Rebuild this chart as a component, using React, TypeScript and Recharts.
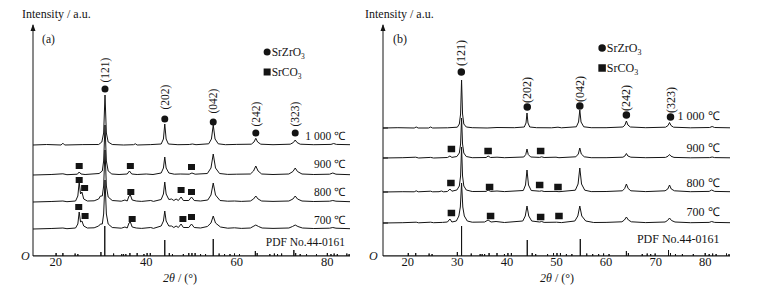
import { ComposedChart, Line, Scatter, XAxis, YAxis, ReferenceDot, ReferenceLine } from "recharts";

type Pt = [number, number];

// XRD patterns: [2θ (°), intensity (a.u. above the pattern's own baseline)]
const a1000: Pt[] = [[15,0],[18,0.5],[21.2,0],[21.6,1.8],[22,0],[26,0.4],[29.5,0.5],[30.2,3],[30.6,12],[30.9,50],[31.2,12],[31.6,3],[32.5,0.5],[35,0],[37.2,0.3],[37.6,1.2],[38,0],[41,0.4],[43.3,1],[43.8,6],[44.1,21],[44.4,6],[44.9,1],[47,0.3],[49.5,0.5],[50.2,1],[51,0.3],[53.8,1.2],[54.4,6],[54.8,20],[55.2,6],[55.9,1.2],[57.5,0.3],[60,0.6],[63.2,0.8],[63.8,3],[64.2,6.7],[64.6,3],[65.3,0.8],[68,0.3],[71.8,0.8],[72.5,2.5],[72.9,5],[73.3,2.5],[74,0.8],[77,0.3],[80.8,0.6],[81.4,1.5],[82,0.6],[85,0.3]];
const a900: Pt[] = [[15,0],[19,0.5],[21.6,1.2],[22.5,0.3],[24.8,0.8],[25.2,3],[25.6,1],[26.5,0.5],[29.6,1.5],[30.3,4],[30.6,14],[30.9,50],[31.2,14],[31.6,4],[32.4,1],[34,0.5],[35.8,1],[36.3,4],[36.8,1],[38,0.5],[40,1],[41.5,0.5],[43.3,2],[43.8,7],[44.1,18],[44.4,7],[45,2],[46.2,0.8],[47.5,1],[49.5,0.8],[50.1,2],[50.8,0.8],[53.5,1.5],[54.3,7],[54.8,21],[55.3,7],[56.2,1.5],[58,0.6],[60,0.8],[63,1],[63.7,4],[64.2,9],[64.7,4],[65.5,1],[68,0.5],[71.5,1],[72.4,3.5],[72.9,7],[73.4,3.5],[74.4,1],[77,0.5],[80.5,0.8],[81.2,2],[81.9,0.8],[85,0.3]];
const a800: Pt[] = [[15,0],[19,0.5],[21.6,1],[22.5,0.3],[24.4,1],[24.9,6],[25.2,20],[25.5,8],[25.8,10],[26.2,3],[27,1],[28.5,1.2],[29.5,3],[29.9,6],[30.3,6],[30.6,16],[30.9,52],[31.2,16],[31.6,5],[32.5,1.5],[34.5,0.8],[35.3,2],[35.8,1],[36.2,6],[36.5,7],[36.9,2],[37.8,1],[39,0.6],[41,1.5],[41.6,0.6],[43.3,2.5],[43.8,8],[44.1,20],[44.4,8],[45,2.5],[45.6,3],[46.1,1.5],[46.6,3],[47.1,1.5],[47.7,5],[48.2,1.5],[49.4,1.5],[50,5],[50.6,1.5],[52,1],[53.6,2],[54.3,7],[54.8,19],[55.3,7],[56.3,1.5],[58,0.8],[59.5,1],[61,0.6],[63,1],[63.7,3],[64.2,6],[64.7,3],[65.5,1],[68,0.6],[71.5,1],[72.4,3],[72.9,6],[73.4,3],[74.4,1],[77,0.5],[80.5,0.8],[81.2,1.5],[81.9,0.8],[85,0.3]];
const a700: Pt[] = [[15,0],[19,0.5],[21.6,1],[22.5,0.3],[24.4,1],[24.9,5],[25.2,17],[25.5,7],[25.8,8],[26.2,3],[27,1],[28.5,1.2],[29.5,3],[29.9,5],[30.3,5],[30.6,15],[30.9,49],[31.2,15],[31.6,5],[32.5,1.5],[34.5,0.8],[35.3,2],[35.8,1],[36.2,6],[36.5,7],[36.9,2],[37.8,1],[39,0.6],[41,1.5],[41.6,0.6],[43.3,3],[43.8,8],[44.1,18],[44.4,8],[45,3],[45.6,3],[46.1,1.5],[46.6,3],[47.1,1.5],[47.7,5],[48.2,1.5],[49.4,1.5],[50,5],[50.6,1.5],[52,1],[53.5,2.5],[54.3,6],[54.8,13],[55.3,6],[56.4,2],[58,0.8],[59.5,1.2],[61,0.6],[63,1],[63.6,2.5],[64.2,4],[64.8,2.5],[65.6,1],[68,0.6],[71.5,1],[72.3,2.5],[72.9,4],[73.5,2.5],[74.5,1],[77,0.5],[80.5,0.8],[81.2,1.5],[81.9,0.8],[85,0.3]];

const b1000: Pt[] = [[15,0],[18,0.3],[21.3,0],[21.7,1],[22.1,0],[24.2,0],[24.6,1],[25,0],[28,0.2],[30,0.8],[30.4,4],[30.65,14],[30.85,48],[31.05,14],[31.3,4],[31.8,1],[33,0.3],[36,0],[38,0.5],[41.5,0.3],[43.5,1],[43.85,5],[44.05,15],[44.25,5],[44.6,1],[46,0.3],[49,0.2],[50.3,0.8],[51,0.2],[54,1.2],[54.45,6],[54.7,18],[54.95,6],[55.5,1.2],[57,0.3],[60,0.3],[63.4,1],[63.8,3],[64.1,7],[64.4,3],[64.9,1],[68,0.3],[72,0.8],[72.5,2.5],[72.8,5.5],[73.1,2.5],[73.6,0.8],[77,0.2],[80.9,0.5],[81.4,1.5],[81.9,0.5],[85,0.2]];
const b900: Pt[] = [[15,0],[19,0.3],[21.6,0.8],[22.2,0],[24.6,0.6],[25.2,0],[28,0.5],[28.5,2],[28.9,0.6],[29.9,1.5],[30.4,5],[30.65,14],[30.85,40],[31.05,14],[31.3,5],[31.8,1.5],[33,0.3],[35.8,0.5],[36.2,2],[36.7,0.5],[38,0.8],[39.5,0.3],[43.4,1],[43.8,3.5],[44.05,9],[44.3,3.5],[44.8,1],[46.6,0.6],[47,1.2],[47.5,0.5],[49.9,0.8],[50.5,0.3],[53.9,1.2],[54.4,4],[54.7,10],[55,4],[55.6,1.2],[57,0.3],[60,0.3],[63.4,0.8],[63.8,2],[64.1,4.5],[64.4,2],[65,0.8],[68,0.3],[72,0.6],[72.5,1.8],[72.8,3.5],[73.1,1.8],[73.7,0.6],[77,0.2],[80.9,0.4],[81.4,1],[81.9,0.4],[85,0.2]];
const b800: Pt[] = [[15,0],[19,0.3],[21.3,0.2],[21.7,1.2],[22.1,0.2],[24.6,0.8],[25,0.2],[26.3,0.3],[26.8,1],[27.2,0.2],[28,0.5],[28.5,3],[28.9,0.8],[29.9,2],[30.4,6],[30.65,16],[30.85,45],[31.05,16],[31.3,6],[31.8,2],[33,0.5],[35.8,0.6],[36.2,2],[36.7,0.6],[38,1],[39.5,0.4],[43.3,1.5],[43.75,7],[44.05,22],[44.35,7],[44.9,1.5],[46.6,0.8],[47,1.2],[47.5,0.5],[49.9,0.6],[50.5,0.3],[53.8,1.8],[54.35,8],[54.7,24],[55.05,8],[55.7,1.8],[57,0.4],[60,0.5],[63.3,1.2],[63.75,3.5],[64.1,8],[64.45,3.5],[65,1.2],[68,0.4],[71.9,1.2],[72.45,3],[72.8,7],[73.15,3],[73.8,1.2],[77,0.3],[80.8,0.6],[81.3,2],[81.9,0.6],[85,0.3]];
const b700: Pt[] = [[15,0],[19,0.3],[21.7,0.8],[22.2,0.2],[24.6,0.8],[25.2,0.3],[27,0.6],[28,1],[28.5,4],[28.9,1],[29.8,2],[30.3,7],[30.6,16],[30.85,40],[31.1,16],[31.4,7],[32,2],[33,0.8],[35.5,1],[36.2,3],[36.8,1],[37.8,1.5],[39.5,0.5],[43.2,2],[43.7,7],[44.05,17],[44.4,7],[45,2],[46.6,1],[47,1.5],[47.5,0.6],[50,0.8],[51,0.4],[53.7,2],[54.3,7],[54.7,17],[55.1,7],[55.9,2],[57.5,0.5],[60,0.6],[63.2,1.2],[63.7,3],[64.1,6],[64.5,3],[65.1,1.2],[68,0.4],[71.9,1],[72.4,2.5],[72.8,5],[73.2,2.5],[73.9,1],[77,0.3],[80.8,0.6],[81.3,1.5],[81.9,0.6],[85,0.3]];

// PDF No.44-0161 reference lines: [2θ, height]
const pdfSticks: Pt[] = [[20.1,3],[21.6,3],[24.3,2.5],[24.9,2],[30.0,4],[30.85,30],[32.8,2.5],[34.6,2],[35.0,2],[35.5,2],[36.4,3],[38.0,3],[39.5,2],[40.2,3],[40.9,3],[44.1,16],[45.1,3],[45.8,2],[48.2,2],[49.4,3],[50.1,3],[50.8,3],[52.0,2],[53.1,2],[54.8,17],[56.1,2.5],[57.3,2],[58.5,2],[59.5,2.5],[60.6,2],[64.1,5],[64.5,3],[67.3,2],[68.3,2.5],[69.0,2],[69.9,2.5],[72.6,6],[73.0,3],[74.0,2],[75.4,2],[77.6,2],[80.0,3],[80.8,2],[81.5,2.5],[82.2,2],[84.3,2.5],[84.8,2]];

const tempLabels = ["1 000 ℃", "900 ℃", "800 ℃", "700 ℃"];
const hklLabels = ["(121)", "(202)", "(042)", "(242)", "(323)"];
const offsetsA = [111, 81, 54, 27];
const offsetsB = [128, 98, 64, 33];

// SrZrO3 peak markers (1 000 ℃) and SrCO3 markers per temperature
const zrA: Pt[] = [[30.9,167],[44.1,137],[54.8,134],[64.2,123],[72.9,123]];
const hklYA = [186, 159, 155, 142, 142];
const co3A: Pt[] = [[25.2,90],[36.5,90],[50.0,89],[25.2,76],[26.4,68],[36.6,64],[47.7,66],[50.0,64],[25.1,49],[26.5,40],[36.9,37],[48.1,37],[50.0,39]];
const zrB: Pt[] = [[30.8,184],[44.1,149],[54.7,150],[64.1,141],[73.0,139]];
const hklYB = [203, 166, 167, 158, 156];
const co3B: Pt[] = [[28.8,107],[36.2,105],[46.8,105],[28.7,73],[36.5,69],[46.6,71],[50.3,69],[28.8,43],[36.7,40],[46.8,39],[50.5,40]];

const FONT = '"Liberation Serif", "Times New Roman", serif';
const INK = "#141414";

type PanelProps = {
  tag: string; left: number; width: number; ml: number; mr: number;
  traces: Pt[][]; offsets: number[]; xTicks: number[]; yTicks?: number[];
  zr: Pt[]; hklY: number[]; co3: Pt[]; tempX: number; tempY: number[]; pdfY: number;
  legend: Pt; fs: number; mk: number;
};

function Panel(p: PanelProps) {
  const lines = p.traces.map((t, i) => t.map(([x, y]) => ({ x, y: y + p.offsets[i] })));
  const pdf = [{ x: 15, y: 0 }, ...pdfSticks.flatMap(([x, h]) => [{ x, y: 0 }, { x, y: h }, { x, y: 0 }]), { x: 85, y: 0 }];
  const hkl = p.zr.map(([x], i) => ({ x, y: p.hklY[i], text: hklLabels[i] }));
  const temps = tempLabels.map((text, i) => ({ x: p.tempX, y: p.tempY[i], text }));
  const m = p.mk;
  const circle = (s: any) => <circle cx={s.cx} cy={s.cy} r={m / 2} fill={INK} />;
  const square = (s: any) => <rect x={s.cx - m / 2} y={s.cy - m / 2 + 0.5} width={m} height={m - 1} fill={INK} />;
  const txt = (anchor: string) => (s: any) => (
    <text x={s.cx} y={s.cy} textAnchor={anchor} dominantBaseline="central" fontSize={p.fs} fontFamily={FONT} fill={INK}>{s.payload.text}</text>
  );
  const vtxt = (s: any) => (
    <text x={s.cx} y={s.cy} transform={`rotate(-90 ${s.cx} ${s.cy})`} textAnchor="middle" dominantBaseline="central" fontSize={p.fs} fontFamily={FONT} fill={INK}>{s.payload.text}</text>
  );
  const legendItem = (label: string, isCircle: boolean) => (s: any) => (
    <g>
      {isCircle ? <circle cx={s.cx} cy={s.cy} r={m / 2} fill={INK} /> : <rect x={s.cx - m / 2} y={s.cy - m / 2} width={m} height={m} fill={INK} />}
      <text x={s.cx + m / 2 + 1} y={s.cy} dominantBaseline="central" fontSize={p.fs} fontFamily={FONT} fill={INK}>
        {label}<tspan fontSize={p.fs - 4} dy={4}>3</tspan>
      </text>
    </g>
  );
  const arrow = (s: any) => <polygon points={`${s.cx},${s.cy - 1} ${s.cx - 2.5},${s.cy + 6} ${s.cx + 2.5},${s.cy + 6}`} fill={INK} />;
  const yTick = (s: any) => <line x1={s.cx} x2={s.cx + 5} y1={s.cy} y2={s.cy} stroke={INK} strokeWidth={1} />;

  return (
    <div style={{ position: "absolute", left: p.left, top: 0 }}>
      <ComposedChart width={p.width} height={291} margin={{ top: 25, right: p.mr, bottom: 5, left: p.ml }}>
        <XAxis type="number" dataKey="x" domain={[15, 85]} ticks={p.xTicks} allowDataOverflow height={30}
          tickLine={false} tickSize={0} tickMargin={1} axisLine={{ stroke: INK }}
          tick={{ fill: INK, fontSize: 12.5, fontFamily: FONT }} />
        <YAxis type="number" domain={[0, 231]} allowDataOverflow width={0} hide />
        <ReferenceLine x={15} stroke={INK} strokeWidth={1} />
        {(p.yTicks ?? []).map((v) => (
          <ReferenceDot key={v} x={15} y={v} r={0} shape={yTick} />
        ))}
        {lines.map((d, i) => (
          <Line key={i} data={d} dataKey="y" type="linear" stroke={INK} strokeWidth={1} dot={false} isAnimationActive={false} />
        ))}
        <Line data={pdf} dataKey="y" type="linear" stroke={INK} strokeWidth={1} dot={false} isAnimationActive={false} />
        <Scatter data={p.zr.map(([x, y]) => ({ x, y }))} dataKey="y" shape={circle} isAnimationActive={false} />
        <Scatter data={p.co3.map(([x, y]) => ({ x, y }))} dataKey="y" shape={square} isAnimationActive={false} />
        <Scatter data={hkl} dataKey="y" shape={vtxt} isAnimationActive={false} />
        <Scatter data={temps} dataKey="y" shape={txt("end")} isAnimationActive={false} />
        <Scatter data={[{ x: p.tempX, y: p.pdfY, text: "PDF No.44-0161" }]} dataKey="y" shape={txt("end")} isAnimationActive={false} />
        <Scatter data={[{ x: 17, y: 217, text: p.tag }]} dataKey="y" shape={txt("start")} isAnimationActive={false} />
        <Scatter data={[{ x: p.legend[0], y: p.legend[1] }]} dataKey="y" shape={legendItem("SrZrO", true)} isAnimationActive={false} />
        <Scatter data={[{ x: p.legend[0], y: p.legend[1] - 20 }]} dataKey="y" shape={legendItem("SrCO", false)} isAnimationActive={false} />
        <ReferenceDot x={15} y={231} r={0} shape={arrow} />
      </ComposedChart>
    </div>
  );
}

const note: any = { position: "absolute", fontFamily: FONT, fontSize: 12, color: INK, lineHeight: "14px", whiteSpace: "nowrap" };

export default function App() {
  return (
    <div style={{ position: "absolute", left: 0, top: 0, width: 775, height: 291, background: "#fff", overflow: "hidden" }}>
      <Panel tag="(a)" left={0} width={360} ml={33} mr={10} traces={[a1000, a900, a800, a700]}
        offsets={offsetsA} xTicks={[20, 40, 60, 80]} zr={zrA} hklY={hklYA} co3={co3A}
        tempX={83.9} tempY={[120, 92, 64, 36]} pdfY={14} legend={[66.7, 204]} fs={11.5} mk={7} />
      <Panel tag="(b)" left={350} width={425} ml={33} mr={45} traces={[b1000, b900, b800, b700]}
        offsets={offsetsB} xTicks={[20, 30, 40, 50, 60, 70, 80]} yTicks={offsetsB} zr={zrB} hklY={hklYB} co3={co3B}
        tempX={82.9} tempY={[140, 108, 73, 44]} pdfY={17} legend={[59.2, 208]} fs={12} mk={7.5} />
      <div style={{ ...note, left: 22, top: 7 }}>Intensity / a.u.</div>
      <div style={{ ...note, left: 365, top: 7 }}>Intensity / a.u.</div>
      <div style={{ ...note, left: 21, top: 249, fontStyle: "italic" }}>O</div>
      <div style={{ ...note, left: 369, top: 249, fontStyle: "italic" }}>O</div>
      <div style={{ ...note, left: 163, top: 271 }}><i>2θ</i> / (°)</div>
      <div style={{ ...note, left: 540, top: 271 }}><i>2θ</i> / (°)</div>
    </div>
  );
}
